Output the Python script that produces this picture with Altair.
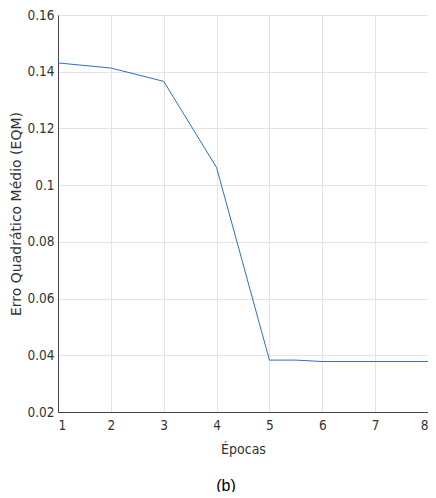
import altair as alt
import pandas as pd

epocas = [1, 2, 3, 4, 5, 5.5, 6, 7, 8]
eqm = [0.1431, 0.1413, 0.1366, 0.1062, 0.0383, 0.0383, 0.0378, 0.0378, 0.0378]

df = pd.DataFrame({"Épocas": epocas, "EQM": eqm})

font = "DejaVu Sans Condensed"

chart = alt.Chart(df).mark_line(color="#2a6fc9", strokeWidth=1).encode(
    x=alt.X("Épocas:Q", scale=alt.Scale(domain=[1, 8], nice=False),
            axis=alt.Axis(title="Épocas", values=[1, 2, 3, 4, 5, 6, 7, 8], format="d",
                          ticks=False, labelPadding=6, titlePadding=11)),
    y=alt.Y("EQM:Q", scale=alt.Scale(domain=[0.02, 0.16], nice=False, zero=False),
            axis=alt.Axis(title="Erro Quadrático Médio (EQM)",
                          values=[0.02, 0.04, 0.06, 0.08, 0.1, 0.12, 0.14, 0.16],
                          labelExpr="format(datum.value, '.2~f')",
                          titleFont="DejaVu Sans", titleFontSize=14,
                          ticks=False, labelPadding=4, titlePadding=3)),
).properties(
    width=370, height=397,
    title=alt.TitleParams("(b)", orient="bottom", anchor="middle", font="Liberation Sans",
                          fontSize=16, fontWeight="normal", color="#000", offset=21, dx=-17),
    autosize=alt.AutoSizeParams(type="none"),
    padding={"left": 50, "top": 7, "right": 0, "bottom": 80},
).configure_view(
    stroke="#444", strokeWidth=1
).configure_axis(
    labelFont=font, titleFont=font, labelFontSize=13.5, titleFontSize=14,
    labelColor="#333", titleColor="#333", titleFontWeight="normal",
    grid=True, gridColor="#e3e3e3", domainColor="#444",
)

chart.save("out.html", embed_options={"renderer": "svg", "actions": False})
